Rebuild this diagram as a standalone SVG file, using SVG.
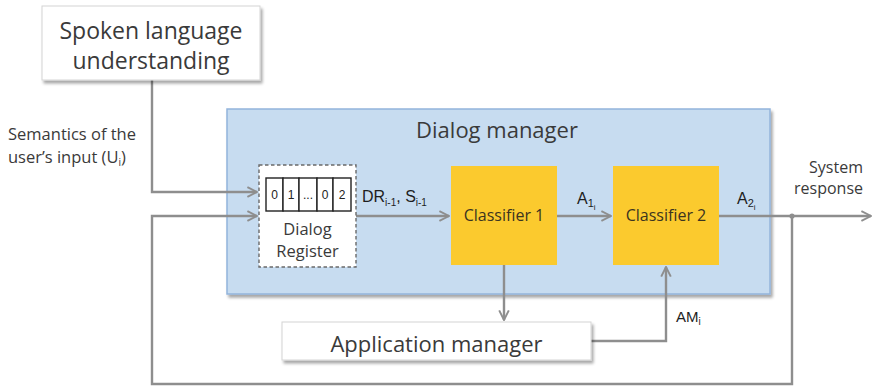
<svg xmlns="http://www.w3.org/2000/svg" width="874" height="388" viewBox="0 0 874 388">
  <defs>
    <style>
      .box { fill: #ffffff; stroke: #d4d4d4; stroke-width: 1; }
      .lbl { font-family: "Open Sans", Lato, sans-serif; fill: #3a3a3a; }
      .sym { font-family: "Liberation Sans", Arial, sans-serif; fill: #1e1e1e; }
      .cls { font-family: "Open Sans", Lato, sans-serif; font-size: 16px; fill: #3b3420; text-anchor: middle; }
      .wire { fill: none; stroke: #8e8e8e; stroke-width: 2.4; }
      .cell { fill: #ffffff; stroke: #222222; stroke-width: 1.4; }
      .digit { font-family: "Liberation Sans", Arial, sans-serif; font-size: 12px; fill: #222222; text-anchor: middle; }
    </style>
    <filter id="shadow" x="-10%" y="-20%" width="125%" height="150%">
      <feGaussianBlur in="SourceAlpha" stdDeviation="1.6"/>
      <feOffset dx="1.5" dy="2.5" result="b"/>
      <feComponentTransfer><feFuncA type="linear" slope="0.35"/></feComponentTransfer>
      <feMerge><feMergeNode/><feMergeNode in="SourceGraphic"/></feMerge>
    </filter>
    <marker id="arrow" viewBox="0 0 10 10" refX="9" refY="5" markerWidth="5" markerHeight="5" orient="auto" markerUnits="strokeWidth">
      <polyline points="1,1 9,5 1,9" fill="none" stroke="#8e8e8e" stroke-width="1.6"/>
    </marker>
  </defs>

  <!-- Dialog manager container -->
  <g id="dialog-manager">
    <rect x="227" y="109" width="543" height="185" fill="#c7dcf0" stroke="#93b4db" stroke-width="1.5" filter="url(#shadow)"/>
    <text class="lbl" x="497" y="138" font-size="22" text-anchor="middle">Dialog manager</text>
  </g>

  <!-- Connectors -->
  <g id="connectors">
    <!-- SLU semantics into register -->
    <polyline class="wire" points="152,80 152,192 257,192" marker-end="url(#arrow)"/>
    <!-- feedback loop of system response -->
    <polyline class="wire" points="792,216 792,384 152,384 152,216 257,216" marker-end="url(#arrow)"/>
    <!-- register to classifier 1 -->
    <line class="wire" x1="356" y1="216" x2="449" y2="216" marker-end="url(#arrow)"/>
    <!-- classifier 1 to classifier 2 -->
    <line class="wire" x1="557" y1="216" x2="611" y2="216" marker-end="url(#arrow)"/>
    <!-- classifier 2 to system response -->
    <line class="wire" x1="719" y1="216" x2="871" y2="216" marker-end="url(#arrow)"/>
    <circle cx="792" cy="216" r="2.6" fill="#8e8e8e"/>
    <!-- classifier 1 to application manager -->
    <line class="wire" x1="504" y1="265" x2="504" y2="320" marker-end="url(#arrow)"/>
    <!-- application manager to classifier 2 -->
    <polyline class="wire" points="591,341 666,341 666,267" marker-end="url(#arrow)"/>
  </g>

  <!-- Spoken language understanding -->
  <g id="slu">
    <rect class="box" x="42" y="6" width="218" height="74" filter="url(#shadow)"/>
    <text class="lbl" x="151" y="39" font-size="23" text-anchor="middle">Spoken language</text>
    <text class="lbl" x="151" y="69" font-size="23" text-anchor="middle">understanding</text>
  </g>

  <!-- Semantics label -->
  <g id="semantics-label">
    <text class="lbl" x="8" y="140" font-size="16.5">Semantics of the</text>
    <text class="lbl" x="8" y="163" font-size="16.5">user’s input (U<tspan font-size="10" dy="3">i</tspan><tspan dy="-3">)</tspan></text>
  </g>

  <!-- Dialog register -->
  <g id="dialog-register">
    <rect x="259" y="165" width="97" height="102" fill="#ffffff" stroke="#6a6a6a" stroke-width="1.4" stroke-dasharray="3.5,2.5"/>
    <rect class="cell" x="266" y="178" width="17" height="33"/>
    <rect class="cell" x="283" y="178" width="16" height="33"/>
    <rect class="cell" x="299" y="178" width="18" height="33"/>
    <rect class="cell" x="317" y="178" width="16" height="33"/>
    <rect class="cell" x="333" y="178" width="18" height="33"/>
    <text class="digit" x="274.5" y="199">0</text>
    <text class="digit" x="291" y="199">1</text>
    <text class="digit" x="308" y="199" font-size="10">...</text>
    <text class="digit" x="325" y="199">0</text>
    <text class="digit" x="342" y="199">2</text>
    <text class="lbl" x="307.5" y="235" font-size="16.5" text-anchor="middle" fill="#444444">Dialog</text>
    <text class="lbl" x="307.5" y="257" font-size="16.5" text-anchor="middle" fill="#444444">Register</text>
  </g>

  <!-- Register output label -->
  <text class="sym" x="362" y="202" font-size="16">DR<tspan font-size="10" dy="4">i-1</tspan><tspan dy="-4">, S</tspan><tspan font-size="10" dy="4">i-1</tspan></text>

  <!-- Classifier 1 -->
  <g id="classifier-1">
    <rect x="451" y="166" width="106" height="99" fill="#fbca2e"/>
    <text class="cls" x="504" y="221">Classifier 1</text>
  </g>

  <!-- Classifier 2 -->
  <g id="classifier-2">
    <rect x="613" y="166" width="106" height="99" fill="#fbca2e"/>
    <text class="cls" x="666" y="221">Classifier 2</text>
  </g>

  <!-- Classifier outputs -->
  <text class="sym" x="577" y="204" font-size="16">A<tspan font-size="11" dy="3">1</tspan><tspan font-size="8" dy="3">i</tspan></text>
  <text class="sym" x="737" y="204" font-size="16">A<tspan font-size="11" dy="3">2</tspan><tspan font-size="8" dy="3">i</tspan></text>

  <!-- System response label -->
  <g id="system-response">
    <text class="lbl" x="863" y="173" font-size="16" text-anchor="end">System</text>
    <text class="lbl" x="863" y="194" font-size="16" text-anchor="end">response</text>
  </g>

  <!-- Application manager -->
  <g id="application-manager">
    <rect class="box" x="282" y="322" width="309" height="38" filter="url(#shadow)"/>
    <text class="lbl" x="436.5" y="352" font-size="22" text-anchor="middle">Application manager</text>
  </g>

  <!-- Application manager output label -->
  <text class="sym" x="676" y="322" font-size="15">AM<tspan font-size="10" dy="3">i</tspan></text>
</svg>
